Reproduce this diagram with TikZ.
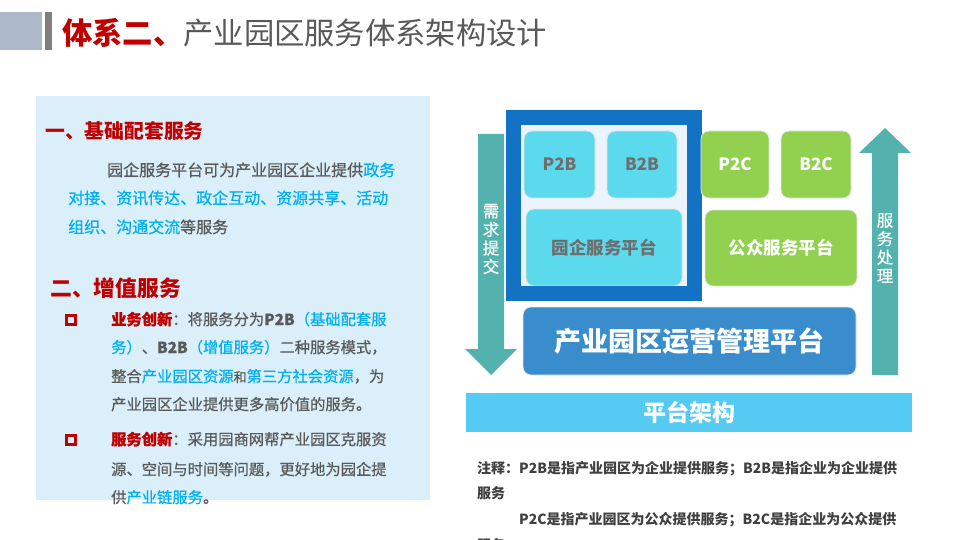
\documentclass[tikz,border=0pt]{standalone}
\usepackage{fontspec}
\setmainfont{Noto Sans CJK SC}
\newfontfamily\zhengwen{Noto Sans CJK SC}[FakeBold=0.6]
\definecolor{decoblue}{HTML}{ADB9CA}
\definecolor{bargray}{HTML}{7F7F7F}
\definecolor{hired}{HTML}{C00000}
\definecolor{txtgray}{HTML}{595959}
\definecolor{notegray}{HTML}{404040}
\definecolor{hiblue}{HTML}{00B0F0}
\definecolor{panel}{HTML}{DAEFF9}
\definecolor{teal}{HTML}{53B2AD}
\definecolor{kuangblue}{HTML}{1272C4}
\definecolor{kuangin}{HTML}{EBF4FC}
\definecolor{cyanbox}{HTML}{5BDAEE}
\definecolor{tilegray}{HTML}{6E6E6E}
\definecolor{greenbox}{HTML}{92D050}
\definecolor{opblue}{HTML}{3A8DCD}
\definecolor{barblue}{HTML}{55CBF3}
\begin{document}
\begin{tikzpicture}[
  x=1pt, y=-1pt,
  txt/.style={anchor=base west, inner sep=0pt, text=txtgray},
  body/.style={txt, font=\zhengwen\fontsize{16}{16}\selectfont},
  item/.style={txt, font=\zhengwen\fontsize{15.3}{15.3}\selectfont},
  note/.style={txt, text=notegray, font=\fontsize{14}{14}\selectfont\bfseries},
  kuai/.style={rounded corners=8pt, draw=white!50!gray!40, line width=0.8pt, inner sep=0pt},
  lan/.style={kuai, fill=cyanbox, text=tilegray},
  lv/.style={kuai, fill=greenbox, text=white},
  shu/.style={align=center, text=white, inner sep=0pt, font=\zhengwen\fontsize{16.5}{18.5}\selectfont},
  fangkuang/.style={draw=hired, line width=3pt, minimum size=9.5pt, inner sep=0pt}
]
\useasboundingbox[fill=white] (0,0) rectangle (960,540);
\clip (0,0) rectangle (960,540);
% title
\fill[decoblue] (0,12) rectangle (42,50);
\fill[bargray] (45,12) rectangle (52,50);
\node[txt, font=\fontsize{30.3}{30.3}\selectfont] (biaoti) at (62,45)
  {\textcolor{hired}{\bfseries 体系二、}产业园区服务体系架构设计};
% left panel
\fill[panel] (36,96) rectangle (430,500);
\node[txt, text=hired, font=\fontsize{19.8}{19.8}\selectfont\bfseries] (jichu) at (45,139) {一、基础配套服务};
\node[body] (p1) at (107,176) {园企服务平台可为产业园区企业提供\textcolor{hiblue}{政务}};
\node[body, text=hiblue] (p2) at (68,204) {对接、资讯传达、政企互动、资源共享、活动};
\node[body] (p3) at (68,233) {\textcolor{hiblue}{组织、沟通交流}等服务};
\node[txt, text=hired, font=\fontsize{21.8}{21.8}\selectfont\bfseries] (zengzhi) at (50,296) {二、增值服务};
\node[fangkuang] (fk1) at (71,320) {};
\node[item] (a1) at (111,325) {\textcolor{hired}{\bfseries 业务创新}：将服务分为{\bfseries P2B}\textcolor{hiblue}{（基础配套服}};
\node[item] (a2) at (111,353) {\textcolor{hiblue}{务）}、{\bfseries B2B}\textcolor{hiblue}{（增值服务）}二种服务模式，};
\node[item] (a3) at (111,382) {整合\textcolor{hiblue}{产业园区资源}{\fontsize{13}{13}\selectfont 和}\textcolor{hiblue}{第三方社会资源}，为};
\node[item] (a4) at (111,410) {产业园区企业提供更多高价值的服务。};
\node[fangkuang] (fk2) at (71,440) {};
\node[item] (b1) at (111,445) {\textcolor{hired}{\bfseries 服务创新}：采用园商网帮产业园区克服资};
\node[item] (b2) at (111,475) {源、空间与时间等问题，更好地为园企提};
\node[item] (b3) at (111,503) {供\textcolor{hiblue}{产业链服务}。};
% arrows
\fill[teal] (478,134) -- (504,134) -- (504,349) -- (517,349) -- (491,375) -- (465,349) -- (478,349) -- cycle;
\fill[teal] (872,375) -- (872,153) -- (859,153) -- (885,128) -- (911,153) -- (898,153) -- (898,375) -- cycle;
\node[shu] (xuqiu) at (491,239) {需\\求\\提\\交};
\node[shu] (chuli) at (885,248) {服\\务\\处\\理};
% platform blocks
\fill[kuangin] (521,125) rectangle (687,286);
\node[lan, minimum width=71pt, minimum height=67pt, font=\fontsize{17}{17}\selectfont\bfseries] (p2b) at (559.5,164.5) {P2B};
\node[lan, minimum width=70pt, minimum height=67pt, font=\fontsize{17}{17}\selectfont\bfseries] (b2b) at (642,164.5) {B2B};
\node[lan, minimum width=156pt, minimum height=77pt, font=\fontsize{17.5}{17.5}\selectfont\bfseries] (yuanqi) at (604,247.5) {园企服务平台};
\draw[kuangblue, line width=15pt] (513.5,117.5) rectangle (694.5,293.5);
\node[lv, minimum width=68pt, minimum height=67pt, font=\fontsize{17}{17}\selectfont\bfseries] (p2c) at (735,164.5) {P2C};
\node[lv, minimum width=70pt, minimum height=67pt, font=\fontsize{17}{17}\selectfont\bfseries] (b2c) at (816,164.5) {B2C};
\node[lv, minimum width=152pt, minimum height=76pt, font=\fontsize{17.5}{17.5}\selectfont\bfseries] (gongzhong) at (781,248) {公众服务平台};
\node[kuai, fill=opblue, text=white, minimum width=333pt, minimum height=68pt, font=\fontsize{27}{27}\selectfont\bfseries] (yunying) at (689.5,341) {产业园区运营管理平台};
\node[fill=barblue, text=white, inner sep=0pt, minimum width=446pt, minimum height=39pt, font=\fontsize{23}{23}\selectfont\bfseries] (jiagou) at (689,412.5) {平台架构};
% notes
\node[note] (zhu1) at (477,473) {注释：P2B是指产业园区为企业提供服务；B2B是指企业为企业提供};
\node[note] (zhu2) at (477,498) {服务};
\node[note] (zhu3) at (519,524) {P2C是指产业园区为公众提供服务；B2C是指企业为公众提供};
\node[note] (zhu4) at (477,550) {服务};
\end{tikzpicture}
\end{document}
